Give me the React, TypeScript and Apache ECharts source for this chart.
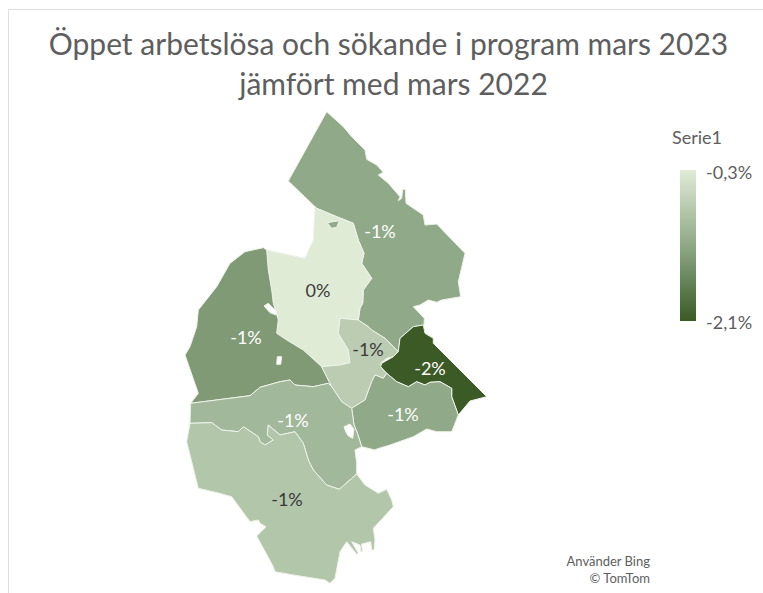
import React, { useEffect, useRef } from "react";
import * as echarts from "echarts";

type Pt = [number, number];

const titleLines = ["Öppet arbetslösa och sökande i program mars 2023", "jämfört med mars 2022"];
const legendTitle = "Serie1";
const legendLabels = ["-0,3%", "-2,1%"];
const attribution = ["Använder Bing", "© TomTom"];

const regionNames = ["Norr", "Centrum", "Väst", "Mitt", "Öst", "Sydöst", "Mellan", "Syd"];
const regionValues = [-1.18, -0.3, -1.36, -0.71, -2.1, -1.18, -0.98, -0.8];
const regionLabelDark = [false, true, false, true, false, false, false, true];
const regionLabelAnchors: Pt[] = [
  [380, 231], [318, 290], [246, 337], [368, 349], [430, 368], [403, 414], [293, 420], [287, 499],
];
const colorStops = ["#3b5a25", "#8ea886", "#e0ebd6"];

const outlineNorr: Pt[] = [
  [326.7, 111.7], [343.3, 126.7], [351.7, 136.7], [365, 150], [366.7, 159.3], [376.7, 165], [383.3, 172.3],
  [378.3, 175], [388.3, 183.3], [400, 196.7], [398.3, 200.7], [401.7, 198.3], [402.7, 189.3], [405.3, 189.3],
  [406, 203.3], [423.3, 215], [425, 225], [436.7, 224], [465, 253.3], [458.3, 281.7], [460.7, 296.7],
  [441.7, 300], [436.7, 302.3], [428.3, 300], [420, 305], [413.3, 306.7], [424.3, 318.3], [424, 325],
  [413.3, 326.7], [400, 338.3], [398.3, 351.7], [385, 338.3], [371.7, 330], [368.3, 326.7], [358.3, 320],
  [360, 308.3], [362.7, 303.3], [363.3, 290], [371.7, 278.3], [361.7, 263.3], [364, 253.3], [358.3, 240],
  [353.3, 223.3], [336.7, 216.7], [316.7, 208.3], [315, 206.7], [288.3, 181],
];
const outlineCentrum: Pt[] = [
  [315, 206.7], [316.7, 208.3], [336.7, 216.7], [353.3, 223.3], [358.3, 240], [364, 253.3], [361.7, 263.3],
  [371.7, 278.3], [363.3, 290], [362.7, 303.3], [360, 308.3], [358.3, 320], [340, 318.3], [338.3, 333.3],
  [348.3, 350], [350, 362.7], [340, 365], [321.7, 366.7], [303.3, 350], [286.7, 340], [276.7, 333.3],
  [278.3, 320], [273.3, 303.3], [271.7, 290], [268.3, 270], [266.7, 250], [305, 258.3], [313.3, 240],
];
const outlineVast: Pt[] = [
  [263.3, 247.7], [245, 251.7], [230, 263.3], [216.7, 286.7], [198.3, 310], [196.7, 326.7], [190, 346.7],
  [185, 355], [198.3, 393.3], [190.7, 403.3], [250, 395.7], [260, 387.3], [280, 381.7], [290, 380],
  [295, 385], [313.3, 386.7], [328.3, 383.3], [331.7, 386.7], [321.7, 366.7], [303.3, 350], [286.7, 340],
  [276.7, 333.3], [278.3, 320], [273.3, 303.3], [271.7, 290], [268.3, 270], [266.7, 250],
];
const outlineMitt: Pt[] = [
  [340, 318.3], [358.3, 320], [368.3, 326.7], [371.7, 330], [385, 338.3], [398.3, 351.7], [393.3, 356.7],
  [386.7, 358.3], [380.7, 363.3], [383.3, 370], [386.7, 373.3], [383.3, 378.3], [375, 375], [371.7, 381.7],
  [365, 400], [351.7, 408.3], [341.7, 401.7], [331.7, 386.7], [321.7, 366.7], [340, 365], [350, 362.7],
  [348.3, 350], [338.3, 333.3],
];
const outlineOst: Pt[] = [
  [400, 338.3], [413.3, 326.7], [423.3, 325], [425, 333.3], [433.3, 338.3], [433.3, 343.3], [486.7, 396.7],
  [470, 401], [458.3, 415], [451.7, 396.7], [451.7, 388.3], [440, 381.7], [430, 382.3], [425, 385],
  [416.7, 381.7], [408.3, 386.7], [396.7, 381.7], [386.7, 373.3], [380.7, 366.7], [381.7, 363.3],
  [393.3, 356.7], [398.3, 351.7],
];
const outlineSydost: Pt[] = [
  [386.7, 373.3], [396.7, 381.7], [408.3, 386.7], [416.7, 381.7], [425, 385], [430, 382.3], [440, 381.7],
  [451.7, 388.3], [451.7, 396.7], [458.3, 415], [451.7, 431.7], [436.7, 431.7], [426.7, 429], [413.3, 436.7],
  [390, 445], [376.7, 449], [375, 450], [361.7, 446.7], [357, 432], [354, 425], [351.7, 408.3], [365, 400],
  [371.7, 381.7], [375, 375], [383.3, 378.3],
];
const outlineMellan: Pt[] = [
  [190.7, 403.3], [250, 395.7], [260, 387.3], [280, 381.7], [290, 380], [295, 385], [313.3, 386.7],
  [328.3, 383.3], [331.7, 386.7], [341.7, 401.7], [351.7, 408.3], [354, 425], [357, 432], [361.7, 446.7],
  [355, 450], [356.7, 463.3], [356.7, 474], [339.3, 489.3], [326.7, 485], [313.3, 470], [308.3, 460],
  [303.3, 443.3], [295, 431.7], [280, 435], [268.3, 425], [267.3, 435], [273.3, 440], [265, 445],
  [260, 441.7], [258.3, 436.7], [243.3, 426.7], [238.3, 431.7], [221.7, 430], [211.7, 422.7], [190, 423.3],
];
const outlineSyd: Pt[] = [
  [190, 423.3], [211.7, 422.7], [221.7, 430], [238.3, 431.7], [243.3, 426.7], [258.3, 436.7], [260, 441.7],
  [265, 445], [273.3, 440], [267.3, 435], [268.3, 425], [280, 435], [295, 431.7], [303.3, 443.3],
  [308.3, 460], [313.3, 470], [326.7, 485], [339.3, 489.3], [356.7, 474], [365, 485], [378.3, 493.3],
  [386.7, 489.3], [391.7, 500], [393.3, 506.7], [373.3, 528.3], [375, 540], [374, 550], [371.7, 550],
  [370.7, 541.7], [361.7, 544], [362.3, 551.7], [360.7, 551.7], [360, 545], [351.7, 541.7], [358.3, 553.3],
  [356.7, 554.3], [346.7, 541.7], [340, 551.7], [335, 578.3], [330, 583.3], [325, 580], [293.3, 575],
  [275, 571.7], [273.3, 566.7], [256.7, 536], [266, 526.7], [260, 523.3], [258.3, 520], [250, 521.7],
  [231.7, 496.7], [218.3, 493], [198.3, 488.3], [186.7, 441.7],
];
const outlineSjoNorr: Pt[] = [[327.3, 222.7], [333.3, 221.7], [339.3, 220.7], [336.7, 227.3], [331.7, 228.3]];
const outlineSjoVast1: Pt[] = [[264, 306], [268.3, 303.3], [276.7, 311.7], [276, 315], [270, 312.7]];
const outlineSjoVast2: Pt[] = [[277.3, 356.7], [281.7, 356.7], [280.7, 364.3], [276.7, 364.3]];
const outlineSjoOst: Pt[] = [[344, 426.7], [350, 424], [354, 429.3], [352.7, 438.3], [348.3, 436], [345.7, 431.7]];

const regionOutlines = [
  outlineNorr, outlineCentrum, outlineVast, outlineMitt, outlineOst, outlineSydost, outlineMellan, outlineSyd,
];
const lakeNames = ["Sjö N", "Sjö V1", "Sjö V2", "Sjö Ö"];
const lakeOutlines = [outlineSjoNorr, outlineSjoVast1, outlineSjoVast2, outlineSjoOst];
const lakeValues: (number | null)[] = [-1.18, null, null, null];

const feature = (name: string, ring: Pt[], cp?: Pt) => ({
  type: "Feature",
  properties: cp ? { name, cp } : { name },
  geometry: { type: "Polygon", coordinates: [[...ring, ring[0]]] },
});

const geoJson = {
  type: "FeatureCollection",
  features: [
    ...regionNames.map((n, i) => feature(n, regionOutlines[i], regionLabelAnchors[i])),
    ...lakeNames.map((n, i) => feature(n, lakeOutlines[i])),
  ],
};

const font = "Lato";
const grey = "#5e5e5e";
const titleStyle = { fontFamily: font, fontSize: 30, fontWeight: "normal", color: grey };

export default function App() {
  const ref = useRef<HTMLDivElement>(null);
  useEffect(() => {
    document.body.style.margin = "0";
    const chart = echarts.init(ref.current!, undefined, { renderer: "svg" });
    echarts.registerMap("omrade", geoJson as any);
    chart.setOption({
      animation: false,
      backgroundColor: "#ffffff",
      title: [
        { text: titleLines[0], left: 383.5, top: 23, textAlign: "center", textStyle: titleStyle },
        { text: titleLines[1], left: 388.5, top: 63, textAlign: "center", textStyle: titleStyle },
      ],
      visualMap: {
        type: "continuous",
        min: -2.1,
        max: -0.3,
        show: false,
        seriesIndex: 0,
        inRange: { color: colorStops },
      },
      series: [
        {
          type: "map",
          map: "omrade",
          projection: { project: (p: number[]) => p, unproject: (p: number[]) => p },
          left: 185,
          top: 111.7,
          width: 301.7,
          height: 471.6,
          roam: false,
          silent: true,
          itemStyle: { areaColor: "#ffffff", borderColor: "#eef3ea", borderWidth: 1 },
          emphasis: { disabled: true },
          select: { disabled: true },
          label: { show: false },
          data: [
            ...regionNames.map((name, i) => ({
              name,
              value: regionValues[i],
              label: {
                show: true,
                fontFamily: font,
                fontSize: 18,
                color: regionLabelDark[i] ? "#3a3a3a" : "#ffffff",
                formatter: (p: any) => `${Math.round(p.value) === 0 ? 0 : Math.round(p.value)}%`,
              },
            })),
            ...lakeNames.map((name, i) => ({ name, value: lakeValues[i] ?? NaN, label: { show: false } })),
          ],
        },
      ],
      graphic: [
        { type: "line", shape: { x1: 8.5, y1: 9.5, x2: 763, y2: 9.5 }, style: { stroke: "#dedede", lineWidth: 1 }, silent: true },
        { type: "line", shape: { x1: 8.5, y1: 9.5, x2: 8.5, y2: 593 }, style: { stroke: "#dedede", lineWidth: 1 }, silent: true },
        {
          type: "rect",
          shape: { x: 680, y: 170, width: 16, height: 151 },
          style: {
            fill: {
              type: "linear", x: 0, y: 0, x2: 0, y2: 1,
              colorStops: [
                { offset: 0, color: colorStops[2] },
                { offset: 0.5, color: colorStops[1] },
                { offset: 1, color: colorStops[0] },
              ],
            },
          },
          silent: true,
        },
        { type: "text", x: 697, y: 137, style: { text: legendTitle, fontFamily: font, fontSize: 18, fill: grey, align: "center", verticalAlign: "middle" } },
        { type: "text", x: 706, y: 172, style: { text: legendLabels[0], fontFamily: font, fontSize: 18, fill: grey, align: "left", verticalAlign: "middle" } },
        { type: "text", x: 706, y: 322, style: { text: legendLabels[1], fontFamily: font, fontSize: 18, fill: grey, align: "left", verticalAlign: "middle" } },
        { type: "text", x: 650, y: 561, style: { text: attribution[0], fontFamily: font, fontSize: 13, fill: grey, align: "right", verticalAlign: "middle" } },
        { type: "text", x: 650, y: 578, style: { text: attribution[1], fontFamily: font, fontSize: 13, fill: grey, align: "right", verticalAlign: "middle" } },
      ],
    });
    return () => chart.dispose();
  }, []);
  return <div ref={ref} style={{ width: 763, height: 593 }} />;
}
